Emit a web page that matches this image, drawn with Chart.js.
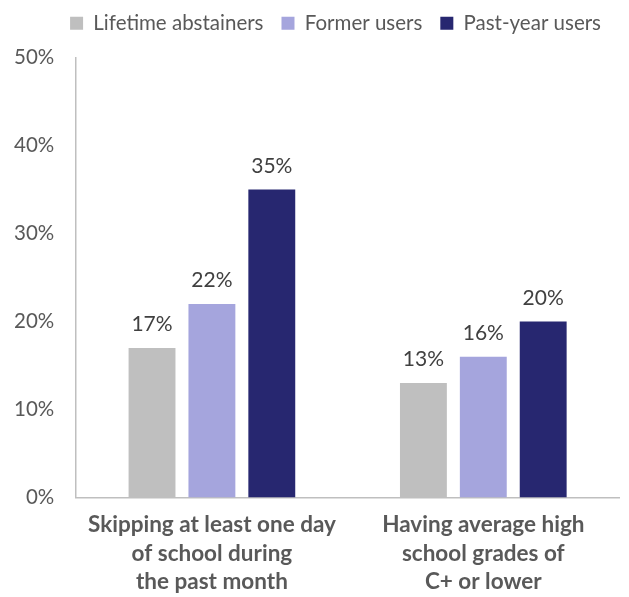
<!DOCTYPE html>
<html>
<head>
<meta charset="utf-8">
<script src="https://cdn.jsdelivr.net/npm/chart.js@4.4.0/dist/chart.umd.min.js"></script>
<style>
  html, body { margin: 0; padding: 0; background: #fff; }
  #wrap { width: 629px; height: 597px; }
</style>
</head>
<body>
<div id="wrap"><canvas id="myChart"></canvas></div>
<script>
const categories = [
  ["Skipping at least one day", "of school during", "the past month"],
  ["Having average high", "school grades of", "C+ or lower"],
];
const lifetimeAbstainers = [17, 13];
const formerUsers = [22, 16];
const pastYearUsers = [35, 20];
const yTicks = [0, 10, 20, 30, 40, 50];

const textColor = "#595959";
const fontFamily = "Lato, 'Open Sans', sans-serif";

// simple value labels above each bar
const barLabels = {
  id: "barLabels",
  afterDatasetsDraw(chart) {
    const ctx = chart.ctx;
    ctx.save();
    ctx.font = "21px " + fontFamily;
    ctx.fillStyle = "#404040";
    ctx.textAlign = "center";
    ctx.textBaseline = "alphabetic";
    chart.data.datasets.forEach((ds, i) => {
      chart.getDatasetMeta(i).data.forEach((bar, j) => {
        ctx.fillText(ds.data[j] + "%", bar.x, bar.y - 17);
      });
    });
    ctx.restore();
  },
};

// extra room under the legend
const legendSpacer = {
  id: "legendSpacer",
  beforeInit(chart) {
    const fit = chart.legend.fit;
    chart.legend.fit = function () {
      fit.bind(chart.legend)();
      this.height += 14;
    };
  },
};

const canvas = document.getElementById("myChart");
new Chart(canvas, {
  type: "bar",
  data: {
    labels: categories,
    datasets: [
      { label: "Lifetime abstainers", data: lifetimeAbstainers, backgroundColor: "#BFBFBF" },
      { label: "Former users", data: formerUsers, backgroundColor: "#A5A5DD" },
      { label: "Past-year users", data: pastYearUsers, backgroundColor: "#272770" },
    ],
  },
  options: {
    responsive: true,
    maintainAspectRatio: false,
    animation: false,
    layout: { padding: { left: -8, right: 10, top: -5, bottom: -12 } },
    datasets: {
      bar: { categoryPercentage: 0.662, barPercentage: 0.783 },
    },
    plugins: {
      legend: {
        position: "top",
        align: "end",
        labels: {
          boxWidth: 13,
          boxHeight: 13,
          padding: 18,
          color: textColor,
          font: { family: fontFamily, size: 20.5 },
        },
      },
      tooltip: { enabled: false },
    },
    scales: {
      x: {
        grid: { display: false, drawTicks: false },
        border: { color: "#BFBFBF", width: 1.5 },
        ticks: {
          color: textColor,
          padding: 13,
          font: { family: fontFamily, size: 22.5, weight: "bold", lineHeight: "28.5px" },
        },
      },
      y: {
        min: 0,
        max: 50,
        afterBuildTicks: (axis) => {
          axis.ticks = yTicks.map((v) => ({ value: v }));
        },
        grid: { display: false, drawTicks: false },
        border: { color: "#BFBFBF", width: 1.5 },
        ticks: {
          color: textColor,
          padding: 22,
          font: { family: fontFamily, size: 20.5 },
          callback: (v) => v + "%",
        },
      },
    },
  },
  plugins: [barLabels, legendSpacer],
});
</script>
</body>
</html>
